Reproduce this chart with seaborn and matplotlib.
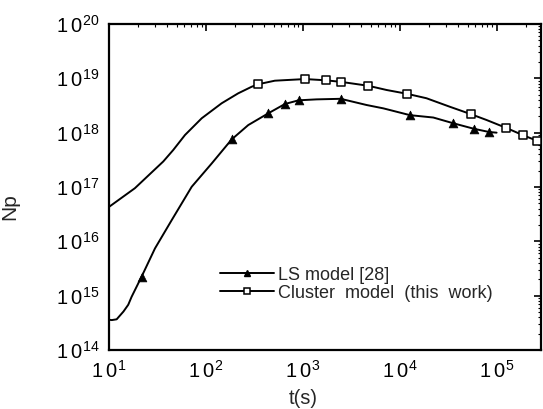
import numpy as np
import pandas as pd
import matplotlib
matplotlib.use("Agg")
import matplotlib.pyplot as plt
import seaborn as sns
from matplotlib.lines import Line2D
from matplotlib.ticker import LogLocator, FuncFormatter, NullFormatter, FixedLocator

# ---- data ----
cluster_t = [10, 18.5, 36.3, 46, 60.8, 90.4, 145, 215, 296, 347, 513, 1050, 1730,
             2480, 4710, 7300, 11800, 18800, 32700, 53600, 78300, 1.24e5,
             1.88e5, 2.6e5]
cluster_np = [4.3e16, 9.5e16, 2.95e17, 4.8e17, 9.06e17, 1.84e18, 3.47e18, 5.3e18,
              7.0e18, 7.8e18, 9.05e18, 9.7e18, 9.2e18, 8.6e18, 7.3e18, 6.1e18,
              5.2e18, 4.3e18, 3.0e18, 2.2e18, 1.71e18, 1.23e18, 8.9e17, 7.1e17]
cluster_mark_t = [347, 1050, 1730, 2480, 4710, 11800, 53600, 1.24e5, 1.88e5, 2.6e5]
cluster_mark_np = [7.8e18, 9.7e18, 9.2e18, 8.6e18, 7.3e18, 5.2e18, 2.2e18,
                   1.23e18, 8.9e17, 7.1e17]

ls_t = [10, 10.7, 12.0, 14.1, 15.8, 17.1, 21.7, 29.8, 44.3, 71.3, 115, 184, 273,
        439, 652, 902, 1380, 2450, 4530, 6760, 12700, 22100, 35500, 57900,
        82800, 99300]
ls_np = [3.6e14, 3.55e14, 3.67e14, 5.1e14, 6.8e14, 9.5e14, 2.24e15, 7.4e15,
         2.45e16, 1.01e17, 2.73e17, 7.5e17, 1.38e18, 2.27e18, 3.37e18, 3.94e18,
         4.1e18, 4.2e18, 3.23e18, 2.8e18, 2.1e18, 1.9e18, 1.49e18, 1.18e18,
         1.03e18, 1.0e18]
ls_mark_t = [21.7, 184, 439, 652, 902, 2450, 12700, 35500, 57900, 82800]
ls_mark_np = [2.24e15, 7.5e17, 2.27e18, 3.37e18, 3.94e18, 4.2e18, 2.1e18,
              1.49e18, 1.18e18, 1.03e18]

x_ticks = [1e1, 1e2, 1e3, 1e4, 1e5]
y_ticks = [1e14, 1e15, 1e16, 1e17, 1e18, 1e19, 1e20]
labels = ["LS model [28]", "Cluster  model  (this  work)"]
x_label = "t(s)"
y_label = "Np"

# ---- style ----
sns.set_style("white")
plt.rcParams["font.family"] = ["Liberation Sans", "DejaVu Sans"]
plt.rcParams["mathtext.fontset"] = "custom"
plt.rcParams["mathtext.rm"] = "Liberation Sans"
plt.rcParams["mathtext.it"] = "Liberation Sans:italic"

fig = plt.figure(figsize=(5.43, 4.09), dpi=100)
ax = fig.add_axes([0.2007, 0.1443, 0.7956, 0.797])
ax.set_xscale("log")
ax.set_yscale("log")

sns.lineplot(x=cluster_t, y=cluster_np, ax=ax, color="black", lw=1.4,
             sort=False, estimator=None, zorder=2)
sns.lineplot(x=ls_t, y=ls_np, ax=ax, color="black", lw=1.4,
             sort=False, estimator=None, zorder=2)
sns.scatterplot(x=cluster_mark_t, y=cluster_mark_np, ax=ax, marker="s", s=30,
                facecolor="white", edgecolor="black", linewidth=1.1, zorder=3)
sns.scatterplot(x=ls_mark_t, y=ls_mark_np, ax=ax, marker="^", s=40,
                color="black", edgecolor="black", linewidth=0.5, zorder=3)

ax.set_xlim(10, 2.85e5)
ax.set_ylim(1e14, 1e20)

fmt = FuncFormatter(lambda v, p: r"$\mathregular{1\:0^{%d}}$" % int(round(np.log10(v))))
for axis, ticks in ((ax.xaxis, x_ticks), (ax.yaxis, y_ticks)):
    axis.set_major_locator(FixedLocator(ticks))
    axis.set_minor_locator(LogLocator(base=10, subs=np.arange(2, 10), numticks=100))
    axis.set_major_formatter(fmt)
    axis.set_minor_formatter(NullFormatter())

ax.tick_params(which="both", direction="in", top=True, right=True, colors="black")
ax.tick_params(which="major", length=5, width=1.2, labelsize=14.5, pad=7)
ax.tick_params(which="minor", length=2.5, width=0.8)
for sp in ax.spines.values():
    sp.set_color("black")
    sp.set_linewidth(1.6)

ax.set_xlabel(x_label, fontsize=14.5)
ax.set_ylabel(y_label, fontsize=15)
ax.xaxis.set_label_coords(0.449, -0.12)
ax.yaxis.set_label_coords(-0.208, 0.44)

handles = [
    Line2D([], [], color="black", lw=1.4, marker="^", markersize=5,
           markerfacecolor="black"),
    Line2D([], [], color="black", lw=1.4, marker="s", markersize=4.5,
           markerfacecolor="white", markeredgewidth=1.1),
]
ax.legend(handles, labels, loc="center left", bbox_to_anchor=(0.257, 0.202),
          frameon=False, fontsize=13, handlelength=3.0, handletextpad=0.2,
          labelspacing=0.05, borderpad=0, borderaxespad=0)

fig.savefig("out.png", dpi=100, facecolor="white")
